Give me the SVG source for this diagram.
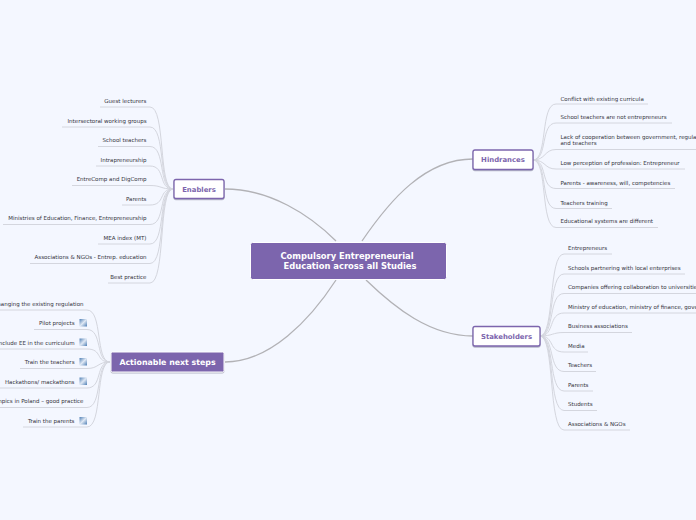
<svg xmlns="http://www.w3.org/2000/svg" width="696" height="520" viewBox="0 0 696 520">
<style>
text{font-family:"DejaVu Sans",Verdana,sans-serif}
.l{font-size:5.5px;fill:#33333c}
.e{text-anchor:end}
.m{fill:none;stroke:#b2b2b6;stroke-width:1.3}
.s{fill:none;stroke:#d4d6de;stroke-width:1}
.box{fill:#fff;stroke:#7c65ad;stroke-width:1.3}
.t{font-size:6.9px;font-weight:bold;fill:#7c65ad;text-anchor:middle}
.w{font-weight:bold;fill:#fff;text-anchor:middle}
</style>
<defs>
<linearGradient id="ig" x1="0" y1="0" x2="1" y2="1"><stop offset="0" stop-color="#4f7fb5"/><stop offset="0.5" stop-color="#dfe8f4"/><stop offset="1" stop-color="#4f7fb5"/></linearGradient>
<g id="ic"><rect width="7.500" height="7.500" fill="url(#ig)"/></g>
<filter id="sh" x="-10%" y="-20%" width="120%" height="150%"><feDropShadow dx="0" dy="1" stdDeviation="0.7" flood-color="#8888a0" flood-opacity="0.6"/></filter>
</defs>
<rect width="696" height="520" fill="#f4f7ff"/>
<g id="connectors">
<path class="m" d="M336,241C310,215 270,189 225,189"/>
<path class="m" d="M362,241C390,200 425,159 473,159"/>
<path class="m" d="M336,280C310,320 270,362 225,362"/>
<path class="m" d="M366,280C395,308 430,336 473,336"/>
<path class="s" d="M173,189C158,189 166,107 150,107H100"/>
<path class="s" d="M173,189C158,189 166,127 150,127H62"/>
<path class="s" d="M173,189C158,189 166,146.500 150,146.500H98"/>
<path class="s" d="M173,189C158,189 166,166 150,166H96"/>
<path class="s" d="M173,189C160,189 162,185.500 150,185.500H72"/>
<path class="s" d="M173,189C158,189 166,205 150,205H122"/>
<path class="s" d="M173,189C158,189 166,224.500 150,224.500H3"/>
<path class="s" d="M173,189C158,189 166,244 150,244H98"/>
<path class="s" d="M173,189C158,189 166,263.500 150,263.500H30"/>
<path class="s" d="M173,189C158,189 166,283 150,283H108"/>
<path class="s" d="M110,362C95,362 103,310 87,310H0"/>
<path class="s" d="M110,362C95,362 103,329.500 87,329.500H34"/>
<path class="s" d="M110,362C95,362 103,349 87,349H0"/>
<path class="s" d="M110,362C97,362 99,368.500 87,368.500H20"/>
<path class="s" d="M110,362C95,362 103,388 87,388H0"/>
<path class="s" d="M110,362C95,362 103,407.500 87,407.500H0"/>
<path class="s" d="M110,362C95,362 103,427 87,427H23"/>
<path class="s" d="M533,160C548,160 540,104 556,104H648"/>
<path class="s" d="M533,160C548,160 540,123 556,123H672"/>
<path class="s" d="M533,160C546,160 544,149.500 556,149.500H696"/>
<path class="s" d="M533,160C546,160 544,169 556,169H685"/>
<path class="s" d="M533,160C548,160 540,188.500 556,188.500H675"/>
<path class="s" d="M533,160C548,160 540,208.500 556,208.500H612"/>
<path class="s" d="M533,160C548,160 540,227.500 556,227.500H658"/>
<path class="s" d="M540,336C555,336 548,254 564,254H612"/>
<path class="s" d="M540,336C555,336 548,274 564,274H685"/>
<path class="s" d="M540,336C555,336 548,293.500 564,293.500H696"/>
<path class="s" d="M540,336C555,336 548,313 564,313H696"/>
<path class="s" d="M540,336C553,336 552,332.500 564,332.500H632"/>
<path class="s" d="M540,336C555,336 548,352 564,352H588"/>
<path class="s" d="M540,336C555,336 548,371.500 564,371.500H596"/>
<path class="s" d="M540,336C555,336 548,391 564,391H593"/>
<path class="s" d="M540,336C555,336 548,410.500 564,410.500H597"/>
<path class="s" d="M540,336C555,336 548,430 564,430H630"/>
</g>
<g id="center"><rect x="250.500" y="242.500" width="196" height="37" rx="2" fill="#7c65ad" stroke="#fff"/><text class="w" font-size="8.400" x="347" y="259">Compulsory Entrepreneurial</text><text class="w" font-size="8.400" x="350" y="269">Education across all Studies</text></g>
<g id="enablers"><rect class="box" filter="url(#sh)" x="174" y="179.500" width="50" height="19" rx="2"/><text class="t" x="199" y="192">Enablers</text></g>
<g id="hindrances"><rect class="box" filter="url(#sh)" x="473" y="150" width="60" height="19.500" rx="2"/><text class="t" x="503" y="162">Hindrances</text></g>
<g id="stakeholders"><rect class="box" filter="url(#sh)" x="473" y="326.500" width="67" height="19.500" rx="2"/><text class="t" x="506.500" y="339">Stakeholders</text></g>
<g id="actionable"><rect filter="url(#sh)" x="111" y="352" width="113" height="20" rx="1.500" fill="#7c65ad" stroke="#fff"/><text class="w" font-size="7.850" x="167.500" y="365">Actionable next steps</text></g>
<g id="enablers-leaves">
<text class="l e" x="146.500" y="103">Guest lecturers</text>
<text class="l e" x="146.500" y="123">Intersectoral working groups</text>
<text class="l e" x="146.500" y="142">School teachers</text>
<text class="l e" x="146.500" y="162">Intrapreneurship</text>
<text class="l e" x="146.500" y="181">EntreComp and DigComp</text>
<text class="l e" x="146.500" y="201">Parents</text>
<text class="l e" x="146.500" y="220">Ministries of Education, Finance, Entrepreneurship</text>
<text class="l e" x="146.500" y="240">MEA index (MT)</text>
<text class="l e" x="146.500" y="259">Associations &amp; NGOs - Entrep. education</text>
<text class="l e" x="146.500" y="279">Best practice</text>
</g>
<g id="actionable-leaves">
<text class="l e" x="83.500" y="306">Changing the existing regulation</text>
<text class="l e" x="74.500" y="325">Pilot projects</text>
<text class="l e" x="74.500" y="345">Include EE in the curriculum</text>
<text class="l e" x="74.500" y="364">Train the teachers</text>
<text class="l e" x="74.500" y="384">Hackathons/ mackathons</text>
<text class="l e" x="83.500" y="403">Olympics in Poland – good practice</text>
<text class="l e" x="74.500" y="423">Train the parents</text>
<use href="#ic" x="79.500" y="319"/><use href="#ic" x="79.500" y="338.500"/><use href="#ic" x="79.500" y="358"/><use href="#ic" x="79.500" y="377.500"/><use href="#ic" x="79.500" y="417"/>
</g>
<g id="hindrances-leaves">
<text class="l" x="560.500" y="100.500">Conflict with existing curricula</text>
<text class="l" x="560.500" y="119">School teachers are not entrepreneurs</text>
<text class="l" x="560.500" y="139">Lack of cooperation between government, regulators</text>
<text class="l" x="560.500" y="145">and teachers</text>
<text class="l" x="560.500" y="165">Low perception of profession: Entrepreneur</text>
<text class="l" x="560.500" y="184.500">Parents - awareness, will, competencies</text>
<text class="l" x="560.500" y="204.500">Teachers training</text>
<text class="l" x="560.500" y="223">Educational systems are different</text>
</g>
<g id="stakeholders-leaves">
<text class="l" x="568" y="250">Entrepreneurs</text>
<text class="l" x="568" y="270">Schools partnering with local enterprises</text>
<text class="l" x="568" y="289">Companies offering collaboration to universities</text>
<text class="l" x="568" y="309">Ministry of education, ministry of finance, government</text>
<text class="l" x="568" y="328">Business associations</text>
<text class="l" x="568" y="348">Media</text>
<text class="l" x="568" y="367">Teachers</text>
<text class="l" x="568" y="387">Parents</text>
<text class="l" x="568" y="406">Students</text>
<text class="l" x="568" y="426">Associations &amp; NGOs</text>
</g>
</svg>
